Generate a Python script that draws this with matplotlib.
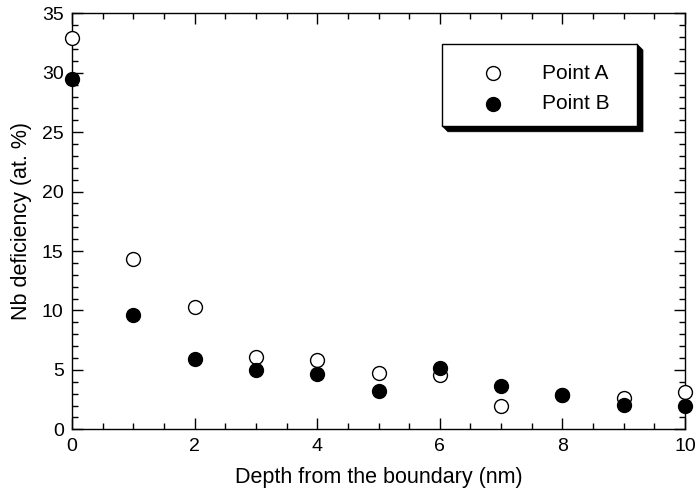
import matplotlib
matplotlib.use("Agg")
import matplotlib.pyplot as plt
from matplotlib.patches import Polygon, Rectangle
from matplotlib.ticker import MultipleLocator
import matplotlib.transforms as mtransforms

plt.rcParams['font.family'] = ['Liberation Sans', 'DejaVu Sans']

depth = [0, 1, 2, 3, 4, 5, 6, 7, 8, 9, 10]
point_a = [32.9, 14.3, 10.3, 6.1, 5.8, 4.7, 4.6, 1.95, 2.9, 2.6, 3.1]
point_b = [29.5, 9.6, 5.95, 4.95, 4.65, 3.25, 5.15, 3.65, 2.9, 2.05, 2.0]
series_names = ['Point A', 'Point B']

W, H = 697, 491
fig = plt.figure(figsize=(W / 100, H / 100), dpi=100)
ax = fig.add_axes([72 / W, (H - 429.3) / H, 613 / W, 416 / H])

ax.plot(depth, point_a, linestyle='none', marker='o', markersize=10,
        markerfacecolor='white', markeredgecolor='black', markeredgewidth=1.0,
        clip_on=False, zorder=3)
ax.plot(depth, point_b, linestyle='none', marker='o', markersize=10,
        markerfacecolor='black', markeredgecolor='black', markeredgewidth=1.0,
        clip_on=False, zorder=4)

ax.set_xlim(0, 10)
ax.set_ylim(0, 35)
ax.xaxis.set_major_locator(MultipleLocator(2))
ax.xaxis.set_minor_locator(MultipleLocator(0.5))
ax.yaxis.set_major_locator(MultipleLocator(5))
ax.yaxis.set_minor_locator(MultipleLocator(1))
ax.tick_params(which='both', direction='in', top=True, right=True,
               colors='black', width=1.0)
ax.tick_params(which='major', length=8, labelsize=14, pad=6)
ax.tick_params(which='minor', length=4)
for s in ax.spines.values():
    s.set_linewidth(1.0)

ax.set_xlabel('Depth from the boundary (nm)', fontsize=15.5, labelpad=9)
ax.set_ylabel('Nb deficiency (at. %)', fontsize=15.5, labelpad=7)

# Legend box with an extruded drop shadow (drawn in display pixels)
bx0, bx1, by0, by1 = 0.6035, 0.9217, 0.7296, 0.9262
d = 6
(px0, py0), (px1, py1) = ax.transAxes.transform([(bx0, by0), (bx1, by1)])
shadow = Polygon([(px0, py0), (px0 + d, py0 - d), (px1 + d, py0 - d),
                  (px1 + d, py1 - d), (px1, py1)], closed=True,
                 transform=mtransforms.IdentityTransform(),
                 facecolor='black', edgecolor='black', linewidth=0.5,
                 zorder=5, clip_on=False)
ax.add_artist(shadow)
box = Rectangle((bx0, by0), bx1 - bx0, by1 - by0, transform=ax.transAxes,
                facecolor='white', edgecolor='black', linewidth=1.0,
                zorder=6, clip_on=False)
ax.add_patch(box)

# Legend entries
mx, tx = 0.687, 0.766
rows = [0.856, 0.782]
styles = [dict(markerfacecolor='white'), dict(markerfacecolor='black')]
for name, yy, st in zip(series_names, rows, styles):
    ax.plot([mx], [yy], transform=ax.transAxes, linestyle='none', marker='o',
            markersize=10, markeredgecolor='black', markeredgewidth=1.0,
            clip_on=False, zorder=7, **st)
    ax.text(tx, yy, name, transform=ax.transAxes, fontsize=15,
            va='center', ha='left', zorder=7)

fig.savefig('out.png', dpi=100)
